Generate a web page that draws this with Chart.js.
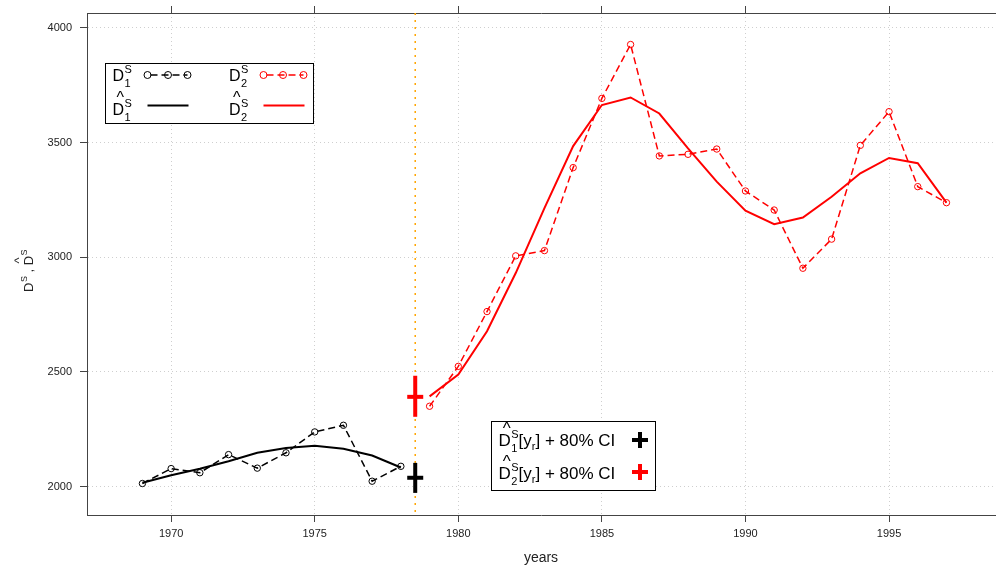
<!DOCTYPE html>
<html>
<head>
<meta charset="utf-8">
<script src="https://cdn.jsdelivr.net/npm/chart.js@4.4.1/dist/chart.umd.min.js"></script>
<style>
  html, body { margin: 0; padding: 0; background: #fff; overflow: hidden; }
  #wrap { width: 996px; height: 565px; overflow: hidden; }
  canvas { display: block; }
</style>
</head>
<body>
<div id="wrap"><canvas id="chart" width="1007" height="565"></canvas></div>
<script>
// observed and fitted series, before and after the break
const years1 = [1969, 1970, 1971, 1972, 1973, 1974, 1975, 1976, 1977, 1978];
const d1Obs = [2013, 2078, 2060, 2139, 2080, 2147, 2238, 2267, 2023, 2088];
const d1Fit = [2016, 2049, 2077, 2110, 2147, 2168, 2178, 2165, 2135, 2083];

const years2 = [1979, 1980, 1981, 1982, 1983, 1984, 1985, 1986, 1987, 1988,
                1989, 1990, 1991, 1992, 1993, 1994, 1995, 1996, 1997];
const d2Obs = [2350, 2524, 2763, 3006, 3029, 3391, 3693, 3928, 3442, 3449,
               3472, 3289, 3206, 2952, 3079, 3488, 3635, 3308, 3238];
const d2Fit = [2393, 2488, 2677, 2931, 3214, 3485, 3664, 3697, 3627, 3475,
               3330, 3203, 3144, 3173, 3264, 3366, 3433, 3410, 3238];

// break year and 80% intervals at y_r: [low, estimate, high]
const splitYear = 1978.5;
const ci1 = [1972, 2038, 2103];
const ci2 = [2304, 2391, 2483];

const xTicks = [1970, 1975, 1980, 1985, 1990, 1995];
const yTicks = [2000, 2500, 3000, 3500, 4000];

const FONT = "'Liberation Sans', Arial, Helvetica, sans-serif";
Chart.defaults.font.family = FONT;

const pts = (xs, ys) => xs.map((x, i) => ({ x: x, y: ys[i] }));
const axisCol = '#444';
const gridCol = '#cfcfcf';

function drawD(ctx, x, base, sub, hat, size) {
  ctx.fillStyle = '#000';
  ctx.font = size + 'px ' + FONT;
  ctx.fillText('D', x, base);
  const w = ctx.measureText('D').width;
  if (hat) {
    const hw = ctx.measureText('^').width;
    ctx.fillText('^', x + w / 2 - hw / 2 + 2, base - 12);
  }
  ctx.font = '11px ' + FONT;
  ctx.fillText('S', x + w + 0.5, base - 8.5);
  ctx.fillText(sub, x + w + 0.5, base + 6);
  return x + w + 0.5 + ctx.measureText('S').width;
}

const decor = {
  id: 'decor',
  beforeDatasetsDraw(chart) {
    const { ctx, chartArea: a, scales } = chart;
    const px = scales.x.getPixelForValue(splitYear);
    ctx.save();
    ctx.strokeStyle = '#FFA500';
    ctx.lineWidth = 1.5;
    ctx.setLineDash([2, 5]);
    ctx.beginPath();
    ctx.moveTo(px, a.top);
    ctx.lineTo(px, a.bottom);
    ctx.stroke();
    ctx.restore();
  },
  afterDraw(chart) {
    const { ctx, chartArea: a } = chart;
    ctx.save();
    ctx.textBaseline = 'alphabetic';
    ctx.textAlign = 'left';

    // y axis title
    ctx.translate(33, (a.top + a.bottom) / 2 + 2);
    ctx.rotate(-Math.PI / 2);
    ctx.fillStyle = '#222';
    let x = -26;
    ctx.font = '13px ' + FONT;
    ctx.fillText('D', x, 0);
    x += ctx.measureText('D').width + 0.5;
    ctx.font = '9px ' + FONT;
    ctx.fillText('S', x, -6);
    x += ctx.measureText('S').width;
    ctx.font = '13px ' + FONT;
    ctx.fillText(' , ', x, 0);
    x += ctx.measureText(' , ').width;
    const dw = ctx.measureText('D').width;
    ctx.fillText('D', x, 0);
    ctx.fillText('^', x + dw / 2 - 3, -10);
    x += dw + 0.5;
    ctx.font = '9px ' + FONT;
    ctx.fillText('S', x, -6);
    ctx.setTransform(1, 0, 0, 1, 0, 0);

    // top-left legend
    ctx.fillStyle = '#fff';
    ctx.fillRect(105, 63, 208, 60);
    ctx.strokeStyle = '#000';
    ctx.lineWidth = 1;
    ctx.strokeRect(105.5, 63.5, 208, 60);

    drawD(ctx, 112.5, 81, '1', false, 16);
    drawD(ctx, 229, 81, '2', false, 16);
    drawD(ctx, 112.5, 115, '1', true, 16);
    drawD(ctx, 229, 115, '2', true, 16);

    [['#000', 147.5, [147.5, 168, 187.5]], ['#f00', 263.5, [263.5, 283, 303.5]]].forEach(([c, x0, cx]) => {
      ctx.strokeStyle = c;
      ctx.lineWidth = 1.5;
      ctx.setLineDash([7, 4]);
      ctx.lineDashOffset = -3;
      ctx.beginPath();
      ctx.moveTo(x0, 75);
      ctx.lineTo(x0 + 40, 75);
      ctx.stroke();
      ctx.setLineDash([]);
      ctx.lineWidth = 1;
      cx.forEach(cxi => {
        ctx.beginPath();
        ctx.arc(cxi, 75, 3.5, 0, Math.PI * 2);
        ctx.stroke();
      });
      ctx.lineWidth = 2;
      ctx.beginPath();
      ctx.moveTo(x0, 105.5);
      ctx.lineTo(x0 + 41, 105.5);
      ctx.stroke();
    });

    // bottom legend
    ctx.fillStyle = '#fff';
    ctx.fillRect(491, 421, 164, 69);
    ctx.strokeStyle = '#000';
    ctx.lineWidth = 1;
    ctx.strokeRect(491.5, 421.5, 164, 69);
    [[446, '1', '#000', 440], [479, '2', '#f00', 472]].forEach(([b, n, c, cy]) => {
      let tx = drawD(ctx, 498.5, b, n, true, 17);
      ctx.font = '17px ' + FONT;
      ctx.fillText('[y', tx, b);
      tx += ctx.measureText('[y').width;
      ctx.font = '11px ' + FONT;
      ctx.fillText('r', tx, b + 4);
      tx += ctx.measureText('r').width;
      ctx.font = '17px ' + FONT;
      ctx.fillText('] + 80% CI', tx, b);
      ctx.strokeStyle = c;
      ctx.lineWidth = 4;
      ctx.beginPath();
      ctx.moveTo(632, cy); ctx.lineTo(648, cy);
      ctx.moveTo(640, cy - 8); ctx.lineTo(640, cy + 8);
      ctx.stroke();
    });
    ctx.restore();
  }
};

function noPad(s) {
  s.paddingLeft = 0;
  s.paddingRight = 0;
  s.paddingTop = 0;
  s.paddingBottom = 0;
}

const xCommon = {
  type: 'linear',
  min: 1967.07,
  max: 1998.69,
  afterBuildTicks: s => { s.ticks = xTicks.map(v => ({ value: v })); }
};

new Chart(document.getElementById('chart').getContext('2d'), {
  type: 'line',
  data: {
    datasets: [
      { data: pts(years1, d1Obs), borderColor: '#000', borderWidth: 1.5, borderDash: [7, 4],
        pointRadius: 3.2, pointBorderWidth: 1, pointBorderColor: '#000', pointBackgroundColor: 'rgba(0,0,0,0)' },
      { data: pts(years1, d1Fit), borderColor: '#000', borderWidth: 2, pointRadius: 0 },
      { data: pts(years2, d2Obs), borderColor: '#f00', borderWidth: 1.5, borderDash: [7, 4],
        pointRadius: 3.2, pointBorderWidth: 1, pointBorderColor: '#f00', pointBackgroundColor: 'rgba(0,0,0,0)' },
      { data: pts(years2, d2Fit), borderColor: '#f00', borderWidth: 2, pointRadius: 0 },
      { data: [{ x: splitYear, y: ci1[0] }, { x: splitYear, y: ci1[2] }], borderColor: '#000', borderWidth: 4, pointRadius: 0 },
      { data: [{ x: splitYear, y: ci1[1] }], showLine: false, pointStyle: 'line', pointRadius: 8,
        pointBorderWidth: 4, pointBorderColor: '#000', borderColor: '#000' },
      { data: [{ x: splitYear, y: ci2[0] }, { x: splitYear, y: ci2[2] }], borderColor: '#f00', borderWidth: 4, pointRadius: 0 },
      { data: [{ x: splitYear, y: ci2[1] }], showLine: false, pointStyle: 'line', pointRadius: 8,
        pointBorderWidth: 4, pointBorderColor: '#f00', borderColor: '#f00' }
    ]
  },
  options: {
    responsive: false,
    animation: false,
    devicePixelRatio: 1,
    layout: { padding: 0 },
    plugins: { legend: { display: false }, tooltip: { enabled: false } },
    scales: {
      x: Object.assign({}, xCommon, {
        position: 'bottom',
        afterFit: s => { s.height = 50; noPad(s); },
        grid: { color: gridCol, lineWidth: 1, tickLength: 7, tickColor: axisCol, tickWidth: 1 },
        border: { color: axisCol, width: 1, dash: [1, 3] },
        ticks: { color: '#222', font: { size: 11 }, padding: 5, maxRotation: 0, callback: v => String(v) },
        title: { display: true, text: 'years', color: '#222', font: { size: 14, lineHeight: 1 }, padding: 0 }
      }),
      xTop: Object.assign({}, xCommon, {
        position: 'top',
        afterFit: s => { s.height = 13; noPad(s); },
        grid: { drawOnChartArea: false, tickLength: 7, tickColor: axisCol, tickWidth: 1 },
        border: { color: axisCol, width: 1 },
        ticks: { display: false }
      }),
      y: {
        type: 'linear',
        position: 'left',
        min: 1875.6,
        max: 4065.4,
        afterBuildTicks: s => { s.ticks = yTicks.map(v => ({ value: v })); },
        afterFit: s => { s.width = 87; noPad(s); },
        grid: { color: gridCol, lineWidth: 1, tickLength: 7, tickColor: axisCol, tickWidth: 1 },
        border: { color: axisCol, width: 1, dash: [1, 3] },
        ticks: { color: '#222', font: { size: 11 }, padding: 8, callback: v => String(v) }
      }
    }
  },
  plugins: [decor]
});
</script>
</body>
</html>
